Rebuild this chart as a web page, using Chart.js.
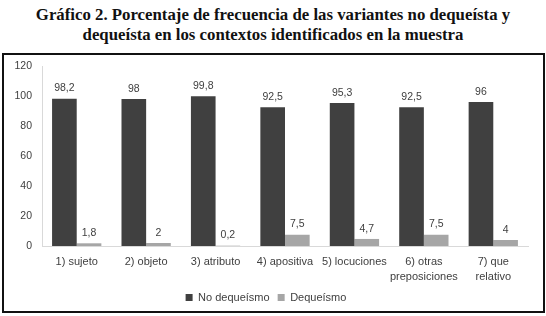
<!DOCTYPE html>
<html>
<head>
<meta charset="utf-8">
<script src="https://cdn.jsdelivr.net/npm/chart.js@4/dist/chart.umd.min.js"></script>
<style>
  html, body { margin: 0; padding: 0; background: #fff; }
  #wrap { position: relative; width: 546px; height: 316px; overflow: hidden; }
  #title { position: absolute; left: 0; top: 5px; width: 546px; text-align: center;
    font-family: "Liberation Serif", "DejaVu Serif", serif; font-weight: bold; font-size: 16.8px;
    line-height: 20px; color: #111; }
  #frame { position: absolute; left: 2px; top: 53px; width: 539px; height: 256px;
    border: 2px solid #111; pointer-events: none; }
  #c { position: absolute; left: 0; top: 0; }
</style>
</head>
<body>
<div id="wrap">
  <div id="title">Gráfico 2. Porcentaje de frecuencia de las variantes no dequeísta y<br>dequeísta en los contextos identificados en la muestra</div>
  <canvas id="c" width="546" height="316"></canvas>
  <div id="frame"></div>
</div>
<script>
const categories = [
  "1) sujeto",
  "2) objeto",
  "3) atributo",
  "4) apositiva",
  "5) locuciones",
  ["6) otras", "preposiciones"],
  ["7) que", "relativo"]
];
const seriesNames = ["No dequeísmo", "Dequeísmo"];
const noDequeismo = [98.2, 98, 99.8, 92.5, 95.3, 92.5, 96];
const dequeismo = [1.8, 2, 0.2, 7.5, 4.7, 7.5, 4];
const yTicks = [0, 20, 40, 60, 80, 100, 120];

const fontFam = "'Liberation Sans', 'DejaVu Sans', sans-serif";

const valueLabels = {
  id: 'valueLabels',
  afterDatasetsDraw(chart) {
    const ctx = chart.ctx;
    ctx.save();
    ctx.font = "10.5px " + fontFam;
    ctx.fillStyle = "#404040";
    ctx.textAlign = "center";
    ctx.textBaseline = "bottom";
    chart.data.datasets.forEach((ds, di) => {
      const meta = chart.getDatasetMeta(di);
      meta.data.forEach((el, i) => {
        const txt = String(ds.data[i]).replace('.', ',');
        ctx.fillText(txt, el.x, el.y - 5);
      });
    });
    ctx.restore();
  }
};

new Chart(document.getElementById('c'), {
  type: 'bar',
  data: {
    labels: categories,
    datasets: [
      { label: seriesNames[0], data: noDequeismo, backgroundColor: '#404040',
        categoryPercentage: 0.71, barPercentage: 1.0 },
      { label: seriesNames[1], data: dequeismo, backgroundColor: '#a6a6a6',
        categoryPercentage: 0.71, barPercentage: 1.0 }
    ]
  },
  options: {
    responsive: false,
    animation: false,
    layout: { padding: { left: 4, right: 18, top: 66, bottom: 3 } },
    plugins: {
      title: { display: false },
      tooltip: { enabled: false },
      legend: {
        position: 'bottom',
        labels: {
          boxWidth: 7, boxHeight: 7, padding: 8,
          color: '#404040',
          font: { size: 11, family: fontFam }
        }
      }
    },
    scales: {
      y: {
        min: 0, max: 120,
        afterBuildTicks(scale) { scale.ticks = yTicks.map(v => ({ value: v })); },
        afterFit(scale) { scale.width = 38; },
        grid: { display: false, drawTicks: false },
        border: { display: true, color: '#d9d9d9', width: 1 },
        ticks: { color: '#404040', padding: 10, font: { size: 10.5, family: fontFam } }
      },
      x: {
        afterFit(scale) { scale.height = 38; },
        grid: { display: false, drawTicks: false },
        border: { display: true, color: '#d9d9d9', width: 1 },
        ticks: { color: '#404040', padding: 9, maxRotation: 0, autoSkip: false,
          font: { size: 11, family: fontFam, lineHeight: 1.35 } }
      }
    }
  },
  plugins: [valueLabels]
});
</script>
</body>
</html>
